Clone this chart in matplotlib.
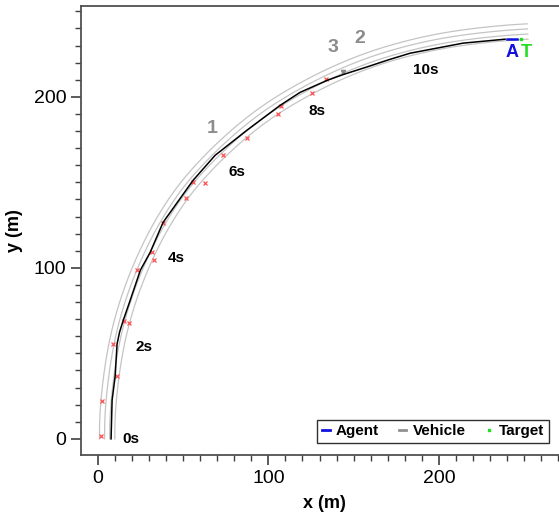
import numpy as np
import matplotlib
matplotlib.use("Agg")
import matplotlib.pyplot as plt
from matplotlib.lines import Line2D

plt.rcParams['font.family'] = ['Liberation Sans', 'DejaVu Sans']

# road centre line (m)
road_x = [5.5, 5.5, 6.5, 9, 13, 19, 27, 37, 50, 65, 82, 100, 120, 140, 160, 180, 200, 220, 240, 252]
road_y = [0, 10, 25, 45, 65, 85, 105, 125, 145, 162, 178, 192, 204, 214, 222, 228, 232.5, 235.5, 237.5, 238.2]
lane_offsets = [-4.5, -1.5, 1.5, 4.5]

# vehicle trajectory
veh_x = [7.8, 8.4, 10.2, 11.3, 12.8, 15, 19, 25, 30.7, 38.3, 55.9, 68.8, 87.5, 106.9,
         118.6, 134.4, 143.8, 157.9, 170, 183.1, 214.2, 238.8]
veh_y = [0, 22.6, 36.7, 55.4, 62.5, 69.5, 81, 98.7, 109, 126.6, 151.2, 165.8, 180.5, 195,
         202.6, 209.6, 213, 217.5, 221.5, 225.5, 231.4, 233.7]

agent_x = [240, 246]
agent_y = [233.7, 233.7]
target_x = [248.3]
target_y = [233.7]

# other cars (red crosses)
obs_x = [1.9, 2.5, 11.3, 9, 15.4, 18.3, 23, 31.8, 33, 38.3, 51.8, 55.9, 62.9, 73.5, 87.5,
         105.7, 107.4, 125.6, 133.8]
obs_y = [1.6, 22, 36.7, 55.4, 68.8, 67.7, 98.7, 109.2, 104.5, 126, 140.8, 150.1, 149.5,
         165.8, 175.8, 189.9, 194.6, 202.2, 210.4]

time_labels = ["0s", "2s", "4s", "6s", "8s", "10s"]
time_x = [19.6, 26.9, 46.2, 81.3, 128.7, 192]
time_y = [0, 53.6, 105.7, 155.9, 192, 215.5]

lane_labels = ["1", "3", "2"]
lane_lx = [67.3, 138, 153.8]
lane_ly = [181.4, 229, 234.3]


def chaikin(x, y, it=3):
    # corner cutting, keeps the end points
    p = np.column_stack([x, y]).astype(float)
    for _ in range(it):
        q = 0.75 * p[:-1] + 0.25 * p[1:]
        r = 0.25 * p[:-1] + 0.75 * p[1:]
        mid = np.empty((2 * len(q), 2))
        mid[0::2] = q
        mid[1::2] = r
        p = np.vstack([p[:1], mid, p[-1:]])
    return p[:, 0], p[:, 1]


fig = plt.figure(figsize=(5.59, 5.16), dpi=100)
ax = fig.add_axes([0.145, 0.118, 0.869, 0.870])

# lane lines as offsets of the centre line
rx, ry = chaikin(road_x, road_y)
tx = np.gradient(rx)
ty = np.gradient(ry)
n = np.hypot(tx, ty)
nx, ny = ty / n, -tx / n
for off in lane_offsets:
    ax.plot(rx + off * nx, ry + off * ny, color='#c4c4c4', lw=0.9, zorder=1)

ax.plot(obs_x, obs_y, ls='none', marker='x', ms=3, mew=0.9, color='#ff5050', zorder=2)
ax.plot([143.8], [214.3], ls='none', marker='v', ms=3, color='#888888', zorder=2)
ax.plot(veh_x, veh_y, color='black', lw=1.1, zorder=3)
ax.plot(agent_x, agent_y, color='#1010e0', lw=1.8, zorder=4)
ax.plot(target_x, target_y, ls='none', marker='s', ms=1.8, color='#22dd22', zorder=4)

for t, x, y in zip(time_labels, time_x, time_y):
    ax.text(x, y, t, fontsize=11, fontweight='bold', ha='center', va='center')
for t, x, y in zip(lane_labels, lane_lx, lane_ly):
    ax.text(x, y, t, fontsize=14, fontweight='bold', color='#8c8c8c', ha='center', va='center')
ax.text(243, 226, "A", fontsize=13, fontweight='bold', color='#1010e0', ha='center', va='center')
ax.text(251.5, 226, "T", fontsize=13, fontweight='bold', color='#22dd22', ha='center', va='center')

ax.set_xlim(-9.8, 275)
ax.set_ylim(-9.5, 253)
ax.set_xticks([0, 100, 200])
ax.set_yticks([0, 100, 200])
ax.set_xticks(np.arange(0, 271, 10), minor=True)
ax.set_yticks(np.arange(0, 251, 10), minor=True)
ax.tick_params(which='major', direction='out', length=7, width=1.2, labelsize=14, color='#404040')
ax.tick_params(which='minor', direction='out', length=4, width=1, color='#404040')
for s in ax.spines.values():
    s.set_color('#505050')
    s.set_linewidth(1.3)

ax.set_xlabel("x (m)", fontsize=13, fontweight='bold', labelpad=6)
ax.set_ylabel("y (m)", fontsize=13, fontweight='bold', labelpad=8)

handles = [Line2D([], [], color='#1010e0', lw=2),
           Line2D([], [], color='#909090', lw=2),
           Line2D([], [], ls='none', marker='s', ms=2, color='#22dd22')]
leg = fig.legend(handles, ["Agent", "Vehicle", "Target"], loc='lower right',
                 bbox_to_anchor=(0.982, 0.1415), borderaxespad=0, ncol=3,
                 handlelength=0.5, handletextpad=0.4, columnspacing=1.3, borderpad=0.3,
                 fancybox=False, framealpha=1, prop={'weight': 'bold', 'size': 11})
leg.get_frame().set_edgecolor('#303030')
leg.get_frame().set_linewidth(1)

fig.savefig("out.png", dpi=100)
